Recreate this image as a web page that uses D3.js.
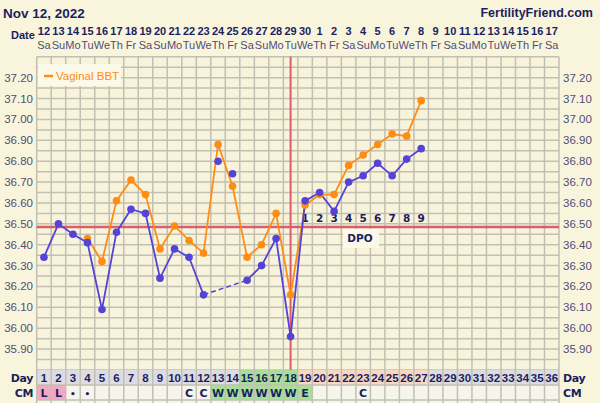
<!DOCTYPE html>
<html><head><meta charset="utf-8">
<script src="https://cdn.jsdelivr.net/npm/d3@7"></script>
<style>body{margin:0;background:#f9f5dc;overflow:hidden}</style>
</head><body><svg id="c" width="600" height="403" font-family="DejaVu Sans, sans-serif"></svg>
<script>
// ---- data ----
const cycleDays = d3.range(1, 37);
const dateLabels = ["12","13","14","15","16","17","18","19","20","21","22","23","24","25","26","27","28","29","30","1","2","3","4","5","6","7","8","9","10","11","12","13","14","15","16","17"];
const weekdays = ["Sa","Su","Mo","Tu","We","Th","Fr","Sa","Su","Mo","Tu","We","Th","Fr","Sa","Su","Mo","Tu","We","Th","Fr","Sa","Su","Mo","Tu","We","Th","Fr","Sa","Su","Mo","Tu","We","Th","Fr","Sa"];
const bbtTemps = [36.34,36.50,36.45,36.41,36.09,36.46,36.57,36.55,36.24,36.38,36.34,36.16,null,null,36.23,36.30,36.43,35.96,36.61,36.65,36.56,36.70,36.73,36.79,36.73,36.81,36.86];
const discardedDays = [13, 14];
const discardedTemps = [36.80, 36.74];
const vaginalTemps = [null,null,null,36.43,36.32,36.61,36.71,36.64,36.38,36.49,36.42,36.36,36.88,36.68,36.34,36.40,36.55,36.16,36.59,36.64,36.64,36.78,36.83,36.88,36.93,36.92,37.09];
const cmLabels = ["L","L","•","•","","","","","","","C","C","W","W","W","W","W","W","E","","","","C","","","","","","","","","","","","",""];
const dpoLabels = ["1","2","3","4","5","6","7","8","9"];
const dpoStartDay = 19;
const coverline = 36.485;
const ovulationDay = 18;
const yTicks = [35.9,36.0,36.1,36.2,36.3,36.4,36.5,36.6,36.7,36.8,36.9,37.0,37.1,37.2];

// ---- layout ----
const svg = d3.select("#c");
const NARROW = "Liberation Sans, Arial, sans-serif";
const L = 36.7, R = 559, T = 56.8, B = 370;
const x = d3.scaleLinear().domain([0.5, 36.5]).range([L, R]);
const y = d3.scaleLinear().domain([35.8, 37.3]).range([B, T]);
const colW = x(2) - x(1);
const navy = "#1c1f5e", tickCol = "#4e4e78", grid = "#c3bfb2";
const blue = "#5443d6", orange = "#ff8c14", red = "#dc5d6a";

svg.append("rect").attr("width",600).attr("height",403).attr("fill","#f9f5dc");

// title
svg.append("text").attr("font-family",NARROW).attr("x",3).attr("y",17.5).attr("font-size",13.5).attr("font-weight","bold").attr("fill",navy).text("Nov 12, 2022");
svg.append("text").attr("font-family",NARROW).attr("x",593).attr("y",17).attr("text-anchor","end").attr("font-size",12.5).attr("font-weight","bold").attr("fill",navy).text("FertilityFriend.com");

// date header
svg.append("text").attr("font-family",NARROW).attr("x",11).attr("y",39).attr("font-size",11).attr("font-weight","bold").attr("fill",navy).text("Date");
svg.selectAll(".dl").data(cycleDays).join("text").attr("font-family",NARROW).attr("x",d=>x(d)).attr("y",35)
  .attr("text-anchor","middle").attr("font-size",11).attr("font-weight","bold").attr("fill",navy)
  .text(d=>dateLabels[d-1]);
svg.selectAll(".wd").data(cycleDays).join("text").attr("font-family",NARROW).attr("x",d=>x(d)).attr("y",48.5)
  .attr("text-anchor","middle").attr("font-size",11).attr("fill",tickCol)
  .text(d=>weekdays[d-1]);

// plot bg
svg.append("rect").attr("x",L).attr("y",T).attr("width",R-L).attr("height",B-T).attr("fill","#f8f4dc");

// horizontal grid
const hLines = d3.range(0, 31).map(i => 35.8 + i*0.05);
svg.selectAll(".hg").data(hLines).join("line").attr("x1",L).attr("x2",R)
  .attr("y1",d=>y(d)).attr("y2",d=>y(d)).attr("stroke",grid).attr("stroke-width",1.5);

// bottom rows
const rowDayY = 370, rowCmY = 385, rowExY = 400;
function dayFill(d){ if (d>=15 && d<=18) return "#a6df98"; if (d>=19 && d<=27) return "#f8d8c2"; return "#dcdce3"; }
function cmFill(d){ if (d<=2) return "#f2a7c2"; if (d>=13 && d<=19) return "#a6df98"; return "#f6f5ec"; }
svg.selectAll(".dc").data(cycleDays).join("rect").attr("x",d=>x(d)-colW/2).attr("y",rowDayY)
  .attr("width",colW).attr("height",15).attr("fill",dayFill);
svg.selectAll(".cc").data(cycleDays).join("rect").attr("x",d=>x(d)-colW/2).attr("y",rowCmY)
  .attr("width",colW).attr("height",15).attr("fill",cmFill);
svg.selectAll(".ec").data(cycleDays).join("rect").attr("x",d=>x(d)-colW/2).attr("y",rowExY)
  .attr("width",colW).attr("height",5).attr("fill","#f6f5ec");
[rowCmY, rowExY].forEach(yy => svg.append("line").attr("x1",L).attr("x2",R).attr("y1",yy).attr("y2",yy).attr("stroke",grid).attr("stroke-width",1.5));

// vertical grid
const vLines = d3.range(0, 37).map(i => 0.5 + i);
svg.selectAll(".vg").data(vLines).join("line").attr("x1",d=>x(d)).attr("x2",d=>x(d))
  .attr("y1",T).attr("y2",403).attr("stroke",grid).attr("stroke-width",1.5);

// row labels
svg.selectAll(".dn").data(cycleDays).join("text").attr("font-family",NARROW).attr("x",d=>x(d)).attr("y",rowDayY+11.5)
  .attr("text-anchor","middle").attr("font-size",11.5).attr("font-weight","bold").attr("fill",navy)
  .text(d=>d);
svg.selectAll(".cm").data(cycleDays).join("text").attr("x",d=>x(d)).attr("y",rowCmY+11.5)
  .attr("text-anchor","middle").attr("font-size",d=>cmLabels[d-1]==="•"?9:11).attr("font-weight","bold").attr("fill",navy)
  .text(d=>cmLabels[d-1]);
[["Day",rowDayY+11.5],["CM",rowCmY+11.5]].forEach(([t,yy])=>{
  svg.append("text").attr("x",33).attr("y",yy).attr("text-anchor","end").attr("font-size",11).attr("font-weight","bold").attr("fill",navy).attr("letter-spacing",-0.4).text(t);
  svg.append("text").attr("x",563).attr("y",yy).attr("font-size",11).attr("font-weight","bold").attr("fill",navy).attr("letter-spacing",-0.4).text(t);
});

// y axes
const fmt = d3.format(".2f");
svg.selectAll(".yl").data(yTicks).join("text").attr("font-family",NARROW).attr("x",33).attr("y",d=>y(d)+4)
  .attr("text-anchor","end").attr("font-size",11.5).attr("fill",tickCol).text(fmt);
svg.selectAll(".yr").data(yTicks).join("text").attr("font-family",NARROW).attr("x",563).attr("y",d=>y(d)+4)
  .attr("font-size",11.5).attr("fill",tickCol).text(fmt);

// coverline and ovulation line
svg.append("line").attr("x1",L).attr("x2",R).attr("y1",y(coverline)).attr("y2",y(coverline)).attr("stroke",red).attr("stroke-width",2.5);
svg.append("line").attr("x1",x(ovulationDay)).attr("x2",x(ovulationDay)).attr("y1",T).attr("y2",rowDayY).attr("stroke",red).attr("stroke-width",2);

// legend
svg.append("rect").attr("x",38).attr("y",64).attr("width",83).attr("height",22).attr("fill","#fbf9e8");
svg.append("line").attr("x1",44).attr("x2",53).attr("y1",76).attr("y2",76).attr("stroke",orange).attr("stroke-width",2.5);
svg.append("text").attr("font-family",NARROW).attr("x",56).attr("y",80).attr("font-size",11.5).attr("fill",orange).text("Vaginal BBT");

// DPO
svg.append("rect").attr("x",343).attr("y",229).attr("width",36).attr("height",19).attr("fill","#fbf9e8");
svg.append("text").attr("x",360).attr("y",242).attr("text-anchor","middle").attr("font-size",10.5).attr("font-weight","bold").attr("fill",navy).text("DPO");
svg.selectAll(".dpo").data(dpoLabels).join("text").attr("x",(d,i)=>x(dpoStartDay+i)).attr("y",y(coverline)-5)
  .attr("text-anchor","middle").attr("font-size",10.5).attr("font-weight","bold").attr("fill",navy).text(d=>d);

// series
const vPts = vaginalTemps.map((t,i)=>({d:i+1,t})).filter(p=>p.t!=null);
const line = d3.line().x(p=>x(p.d)).y(p=>y(p.t));
svg.append("path").attr("d",line(vPts)).attr("fill","none").attr("stroke",orange).attr("stroke-width",1.8);

const bPts = bbtTemps.map((t,i)=>({d:i+1,t}));
const seg1 = bPts.filter(p=>p.d<=12), seg2 = bPts.filter(p=>p.d>=15);
const gap = [bPts[11], bPts[14]];
svg.append("path").attr("d",line(seg1)).attr("fill","none").attr("stroke",blue).attr("stroke-width",1.8);
svg.append("path").attr("d",line(seg2)).attr("fill","none").attr("stroke",blue).attr("stroke-width",1.8);
svg.append("path").attr("d",line(gap)).attr("fill","none").attr("stroke",blue).attr("stroke-width",1.5).attr("stroke-dasharray","5,3");

svg.selectAll(".vd").data(vPts).join("circle").attr("cx",p=>x(p.d)).attr("cy",p=>y(p.t)).attr("r",3.8).attr("fill",orange);
const bAll = bPts.filter(p=>p.t!=null).concat(discardedDays.map((d,i)=>({d,t:discardedTemps[i]})));
svg.selectAll(".bd").data(bAll).join("circle").attr("cx",p=>x(p.d)).attr("cy",p=>y(p.t)).attr("r",3.8).attr("fill",blue);
</script></body></html>
